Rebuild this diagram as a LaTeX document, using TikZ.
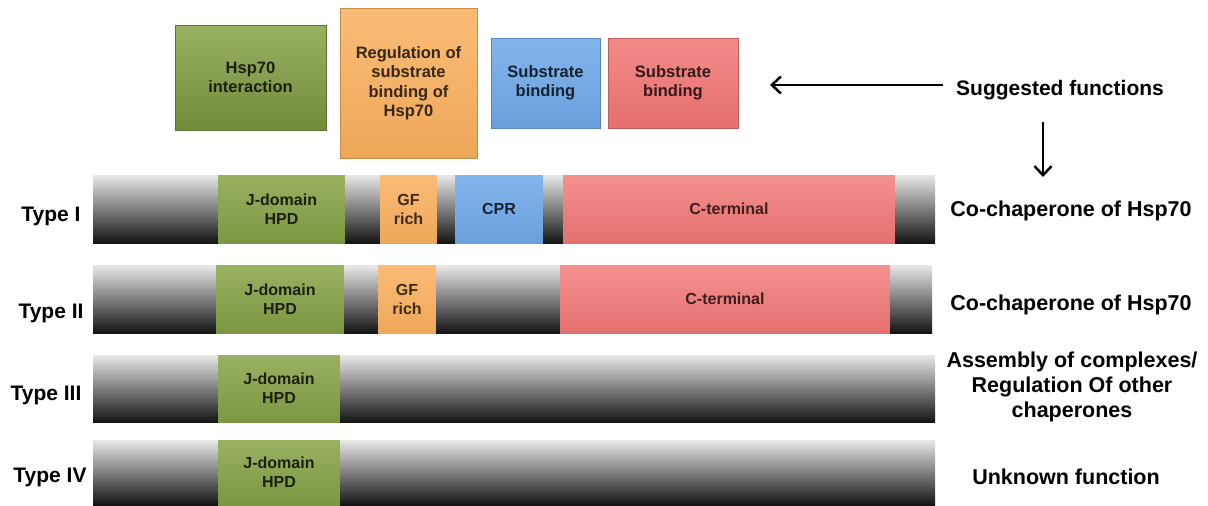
\documentclass[tikz,border=0pt]{standalone}
\usepackage{fontspec}
\setmainfont{Liberation Sans}
\usetikzlibrary{positioning, arrows.meta}
\definecolor{jgreen}{RGB}{135,163,70}
\definecolor{gforange}{RGB}{250,176,94}
\definecolor{cprblue}{RGB}{110,168,232}
\definecolor{ctred}{RGB}{240,118,116}
\begin{document}
\begin{tikzpicture}[x=1pt, y=-1pt]
\tikzstyle{arrow} = [line width = 2.5pt, color = black, -{Straight Barb[length = 9pt, width = 17pt, line width = 2.5pt]}] % standard arrow
\tikzstyle{func} = [rectangle, align = center, inner sep = 0pt, font = \fontsize{16.5}{19.5}\selectfont\bfseries] % top function boxes
\tikzstyle{seg} = [rectangle, align = center, inner sep = 0pt, outer sep = 0pt, font = \fontsize{16}{19}\selectfont\bfseries] % bar segment
\tikzstyle{grey} = [seg, top color = gray!18, middle color = gray!55, bottom color = black!92] % shaded linker
\tikzstyle{jdom} = [seg, top color = jgreen!85!white, bottom color = jgreen!92!black, text = jgreen!20!black] % J-domain
\tikzstyle{gf} = [seg, top color = gforange!85!white, bottom color = gforange!95!black, text = gforange!25!black] % GF rich region
\tikzstyle{cpr} = [seg, top color = cprblue!85!white, bottom color = cprblue!95!black, text = cprblue!20!black] % cysteine rich region
\tikzstyle{cterm} = [seg, top color = ctred!80!white, bottom color = ctred!95!black, text = ctred!25!black] % C-terminal
\tikzstyle{lbl} = [align = center, inner sep = 0pt, font = \fontsize{21}{25}\selectfont\bfseries] % side labels
\useasboundingbox[fill = white] (0,0) rectangle (1208,506); % fix picture size
% suggested functions
\node(hspint)[func, top color = jgreen!85!white, bottom color = jgreen!85!black, draw = jgreen!70!black, text = jgreen!20!black, minimum width = 151pt, minimum height = 105pt] at (250.5,77.5){Hsp70\\interaction};
\node(regul)[func, top color = gforange!85!white, bottom color = gforange!95!black, draw = gforange!80!black, text = gforange!22!black, minimum width = 137pt, minimum height = 150pt] at (408.5,83){Regulation of\\substrate\\binding of\\Hsp70};
\node(subblue)[func, top color = cprblue!85!white, bottom color = cprblue!95!black, draw = cprblue!80!black, text = cprblue!20!black, minimum width = 109pt, minimum height = 90pt] at (545.5,83){Substrate\\binding};
\node(subred)[func, top color = ctred!85!white, bottom color = ctred!95!black, draw = ctred!80!black, text = ctred!22!black, minimum width = 130pt, minimum height = 90pt] at (673,83){Substrate\\binding};
\node(sugg)[lbl] at (1060,90){Suggested functions};
\coordinate(tip) at (770,85);
\draw[arrow]([xshift = -13pt]sugg.west |- tip)--(tip); % points to the boxes
\coordinate(down) at (1043,177);
\draw[arrow, shorten <= 22pt](sugg.south -| down)--(down); % points to the types
% Type I
\node(a1)[grey, anchor = north west, minimum width = 125pt, minimum height = 68pt] at (93,175){};
\node(a2)[jdom, right = 0pt of a1, minimum width = 127pt, minimum height = 68pt]{J-domain\\HPD};
\node(a3)[grey, right = 0pt of a2, minimum width = 35pt, minimum height = 68pt]{};
\node(a4)[gf, right = 0pt of a3, minimum width = 57pt, minimum height = 68pt]{GF\\rich};
\node(a5)[grey, right = 0pt of a4, minimum width = 18pt, minimum height = 68pt]{};
\node(a6)[cpr, right = 0pt of a5, minimum width = 88pt, minimum height = 68pt]{CPR};
\node(a7)[grey, right = 0pt of a6, minimum width = 20pt, minimum height = 68pt]{};
\node(a8)[cterm, right = 0pt of a7, minimum width = 332pt, minimum height = 68pt]{C-terminal};
\node(a9)[grey, right = 0pt of a8, minimum width = 40pt, minimum height = 68pt]{};
\node(typeI)[lbl] at (51,216){Type I};
\node(funcI)[lbl, font = \fontsize{21.5}{25}\selectfont\bfseries] at (1071,211){Co-chaperone of Hsp70};
% Type II
\node(b1)[grey, anchor = north west, minimum width = 123pt, minimum height = 68pt] at (93,265){};
\node(b2)[jdom, right = 0pt of b1, minimum width = 128pt, minimum height = 68pt]{J-domain\\HPD};
\node(b3)[grey, right = 0pt of b2, minimum width = 34pt, minimum height = 68pt]{};
\node(b4)[gf, right = 0pt of b3, minimum width = 58pt, minimum height = 68pt]{GF\\rich};
\node(b5)[grey, right = 0pt of b4, minimum width = 124pt, minimum height = 68pt]{};
\node(b6)[cterm, right = 0pt of b5, minimum width = 330pt, minimum height = 68pt]{C-terminal};
\node(b7)[grey, right = 0pt of b6, minimum width = 42pt, minimum height = 68pt]{};
\node(typeII)[lbl] at (51,313){Type II};
\node(funcII)[lbl, font = \fontsize{21.5}{25}\selectfont\bfseries] at (1071,305){Co-chaperone of Hsp70};
% Type III
\node(c1)[grey, anchor = north west, minimum width = 125pt, minimum height = 67pt] at (93,355){};
\node(c2)[jdom, right = 0pt of c1, minimum width = 122pt, minimum height = 67pt]{J-domain\\HPD};
\node(c3)[grey, right = 0pt of c2, minimum width = 595pt, minimum height = 67pt]{};
\node(typeIII)[lbl] at (46,395){Type III};
\node(funcIII)[lbl, font = \fontsize{21.5}{25}\selectfont\bfseries] at (1072,387){Assembly of complexes/\\Regulation Of other\\chaperones};
% Type IV
\node(d1)[grey, anchor = north west, minimum width = 125pt, minimum height = 65pt] at (93,440){};
\node(d2)[jdom, right = 0pt of d1, minimum width = 122pt, minimum height = 65pt]{J-domain\\HPD};
\node(d3)[grey, right = 0pt of d2, minimum width = 595pt, minimum height = 65pt]{};
\node(typeIV)[lbl] at (50,477){Type IV};
\node(funcIV)[lbl, font = \fontsize{21.5}{25}\selectfont\bfseries] at (1066,477){Unknown function};
\end{tikzpicture}
\end{document}
